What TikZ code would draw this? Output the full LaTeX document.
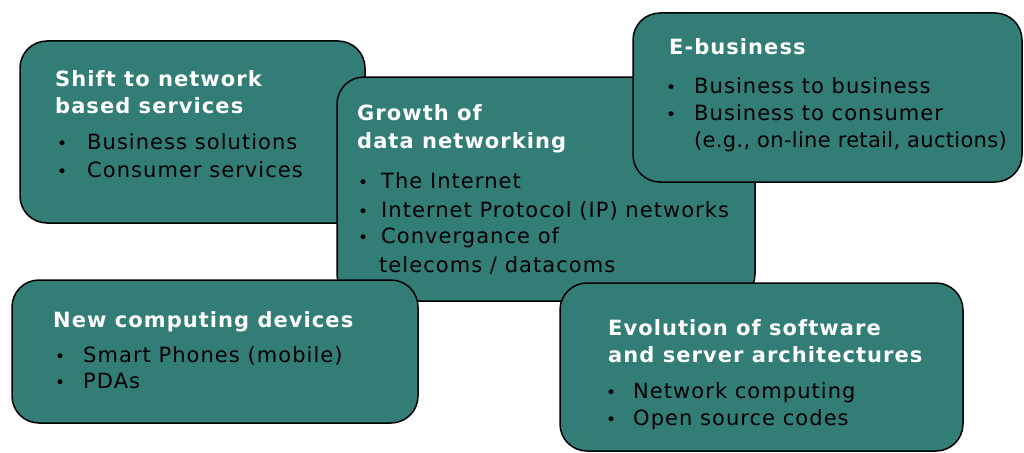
\documentclass[tikz,border=0pt]{standalone}
\usepackage{fontspec}
\setmainfont{DejaVu Sans}[LetterSpace=5]
\definecolor{teal1}{RGB}{50,125,118}
\newcommand\bitem[2]{\makebox[#1][l]{\fontsize{17}{17}\selectfont•}#2}
\tikzset{
  box/.style={draw=black, line width=1.5pt, fill=teal1, rounded corners=27pt},
  ttl/.style={anchor=base west, inner sep=0pt, text=white, font=\fontsize{21}{21}\selectfont\bfseries},
  itm/.style={anchor=base west, inner sep=0pt, text=black, font=\fontsize{21}{21}\selectfont},
}
\begin{document}
\begin{tikzpicture}[x=1pt,y=-1pt]
\useasboundingbox (0,0) rectangle (1024,452);
% boxes (z-order)
\draw[box] (20,41) rectangle (365,223);
\draw[box] (337,77) rectangle (755,301);
\draw[box] (633,13) rectangle (1022,182);
\draw[box] (12,280) rectangle (418,423);
\draw[box] (560,283) rectangle (963,451);
% box 1
\node[ttl] (t1a) at (55,86) {Shift to network};
\node[ttl] (t1b) at (55,113) {based services};
\node[itm] (i1a) at (57,149) {\bitem{30pt}{Business solutions}};
\node[itm] (i1b) at (57,177) {\bitem{30pt}{Consumer services}};
% box 2
\node[ttl] (t2a) at (357,120) {Growth of};
\node[ttl] (t2b) at (357,148) {data networking};
\node[itm] (i2a) at (358,188) {\bitem{23pt}{The Internet}};
\node[itm] (i2b) at (358,217) {\bitem{23pt}{Internet Protocol (IP) networks}};
\node[itm] (i2c) at (358,243) {\bitem{23pt}{Convergance of}};
\node[itm] (i2d) at (379,272) {telecoms / datacoms};
% box 3
\node[ttl] (t3a) at (669,55) {E-business};
\node[itm] (i3a) at (666,93) {\bitem{28pt}{Business to business}};
\node[itm] (i3b) at (666,120) {\bitem{28pt}{Business to consumer}};
\node[itm, font=\fontsize{21}{21}\selectfont\addfontfeatures{LetterSpace=1.5}] (i3c) at (694,147) {(e.g., on-line retail, auctions)};
% box 4
\node[ttl] (t4a) at (53,327) {New computing devices};
\node[itm] (i4a) at (55,362) {\bitem{28pt}{Smart Phones (mobile)}};
\node[itm] (i4b) at (55,388) {\bitem{28pt}{PDAs}};
% box 5
\node[ttl] (t5a) at (608,335) {Evolution of software};
\node[ttl] (t5b) at (608,362) {and server architectures};
\node[itm] (i5a) at (606,398) {\bitem{27pt}{Network computing}};
\node[itm] (i5b) at (606,425) {\bitem{27pt}{Open source codes}};
\end{tikzpicture}
\end{document}
